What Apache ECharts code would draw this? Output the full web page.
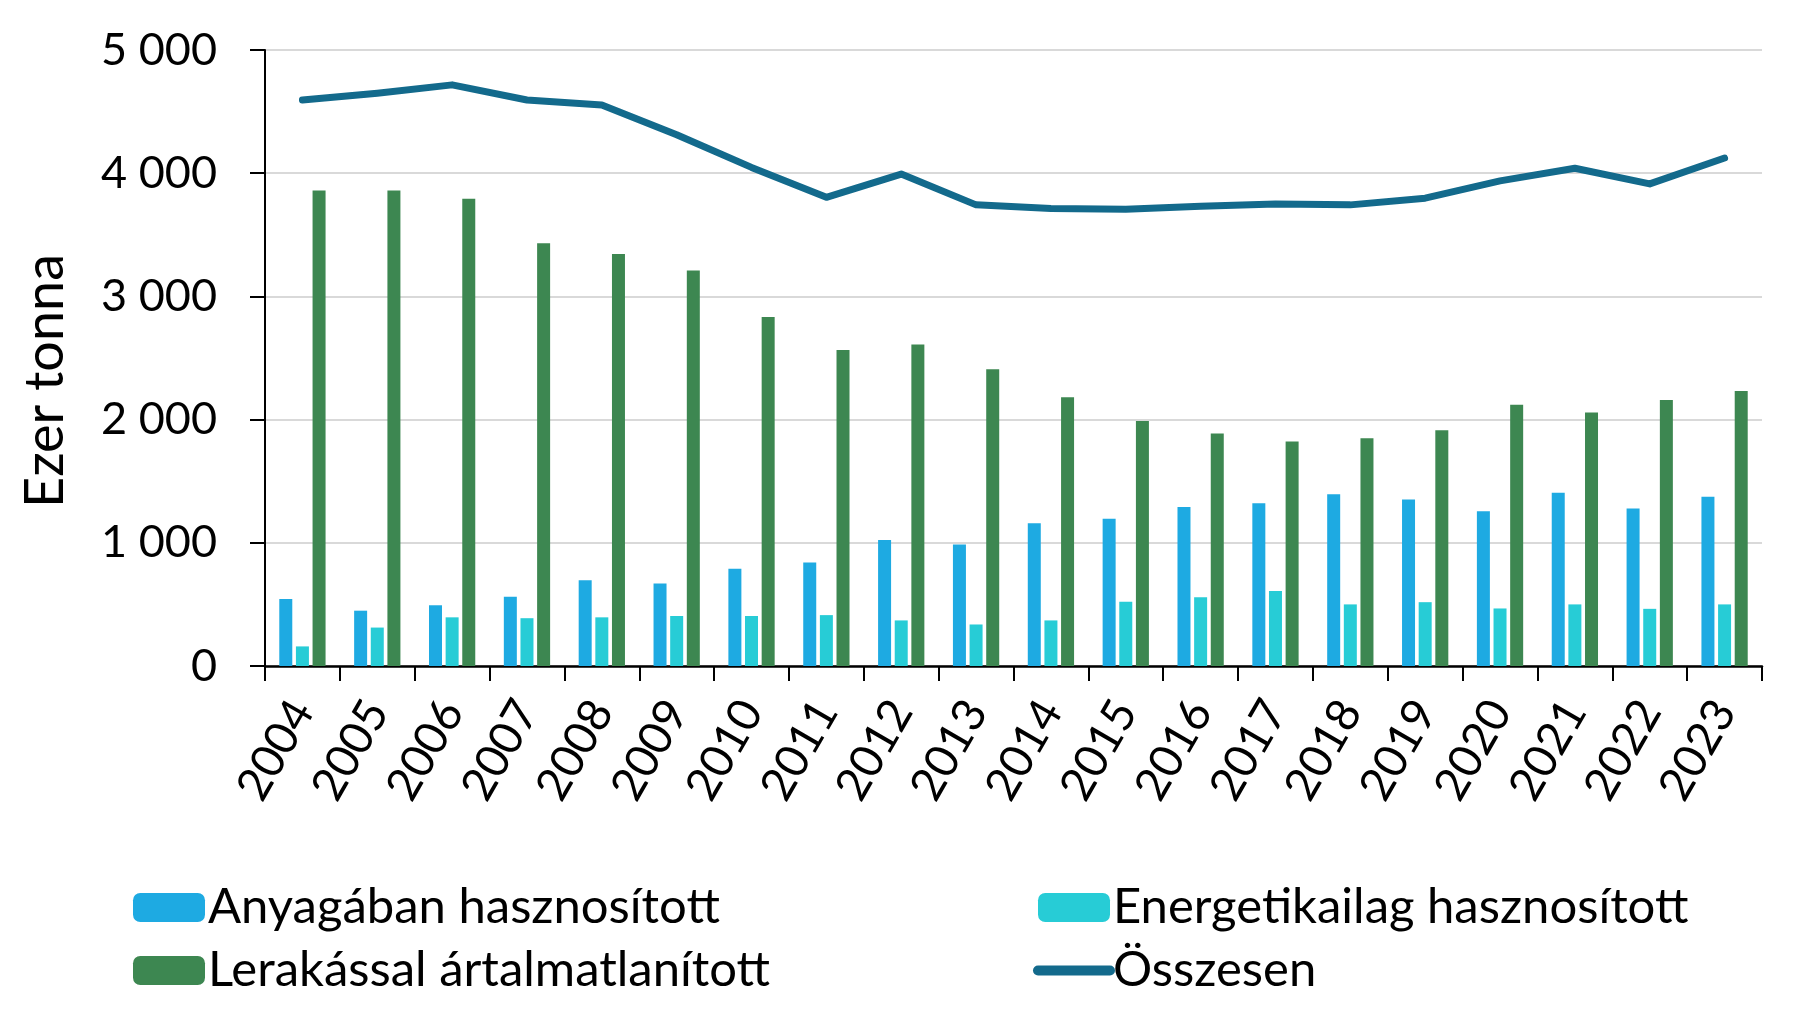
<!DOCTYPE html>
<html>
<head>
<meta charset="utf-8">
<script src="https://cdn.jsdelivr.net/npm/echarts@6/dist/echarts.min.js"></script>
<style>
html,body{margin:0;padding:0;background:#fff;}
#chart{width:1800px;height:1022px;}
</style>
</head>
<body>
<div id="chart"></div>
<script>
const years = ['2004','2005','2006','2007','2008','2009','2010','2011','2012','2013','2014','2015','2016','2017','2018','2019','2020','2021','2022','2023'];
const anyagaban = [543,449,493,562,696,670,790,841,1022,986,1159,1196,1290,1322,1395,1351,1257,1406,1279,1373];
const energetikailag = [159,312,395,388,395,406,406,413,370,337,370,522,558,609,500,518,467,500,464,500];
const lerakassal = [3859,3859,3793,3431,3344,3210,2833,2565,2609,2409,2181,1989,1888,1822,1848,1913,2120,2058,2159,2232];
const osszesen = [4594,4649,4717,4594,4554,4312,4047,3804,3993,3743,3714,3707,3732,3750,3743,3797,3938,4040,3913,4123];
const yTicks = [0,1000,2000,3000,4000,5000];

const FONT = 'Lato';
const chart = echarts.init(document.getElementById('chart'));
const fmt = v => String(v).replace(/\B(?=(\d{3})+(?!\d))/g, ' ');

const legendCommon = {
  orient: 'vertical',
  itemWidth: 72,
  itemHeight: 29,
  itemGap: 14,
  padding: 0,
  selectedMode: false,
  textStyle: {fontFamily: FONT, fontSize: 49, color: '#000', lineHeight: 48, padding: [0,0,0,-2]},
  lineStyle: {width: 10, cap: 'round'}
};

chart.setOption({
  animation: false,
  backgroundColor: '#fff',
  grid: {left: 265, right: 38, top: 50, bottom: 356, containLabel: false},
  legend: [
    Object.assign({}, legendCommon, {left: 133, top: 883, data: ['Anyagában hasznosított', 'Lerakással ártalmatlanított']}),
    Object.assign({}, legendCommon, {left: 1033, top: 883, data: ['Energetikailag hasznosított', {name: 'Összesen', itemStyle: {opacity: 0}}]})
  ],
  xAxis: {
    type: 'category',
    data: years,
    axisLine: {lineStyle: {color: '#000', width: 2.5}},
    axisTick: {show: true, length: 15, lineStyle: {color: '#000', width: 2}},
    axisLabel: {rotate: 60, margin: 38, fontFamily: FONT, fontSize: 46, color: '#000', interval: 0}
  },
  yAxis: {
    type: 'value',
    min: yTicks[0],
    max: yTicks[yTicks.length - 1],
    interval: 1000,
    name: 'Ezer tonna',
    nameLocation: 'middle',
    nameRotate: 90,
    nameGap: 192,
    nameTextStyle: {fontFamily: FONT, fontSize: 54, color: '#000', padding: [0, 46, 0, 0]},
    axisLine: {show: true, lineStyle: {color: '#000', width: 2}},
    axisTick: {show: true, length: 15, lineStyle: {color: '#000', width: 2}},
    axisLabel: {margin: 48, fontFamily: FONT, fontSize: 45, color: '#000', formatter: fmt},
    splitLine: {lineStyle: {color: '#d9d9d9', width: 2}}
  },
  series: [
    {name: 'Anyagában hasznosított', type: 'bar', data: anyagaban, barWidth: 13, barGap: '28%', itemStyle: {color: '#1EAAE2'}},
    {name: 'Energetikailag hasznosított', type: 'bar', data: energetikailag, barWidth: 13, barGap: '28%', itemStyle: {color: '#27CCD6'}},
    {name: 'Lerakással ártalmatlanított', type: 'bar', data: lerakassal, barWidth: 13, barGap: '28%', itemStyle: {color: '#3D8751'}},
    {name: 'Összesen', type: 'line', data: osszesen, symbol: 'none', showSymbol: false, z: 5,
     lineStyle: {color: '#136A8C', width: 7, cap: 'round', join: 'round'}, itemStyle: {color: '#136A8C'}}
  ]
});
</script>
</body>
</html>
